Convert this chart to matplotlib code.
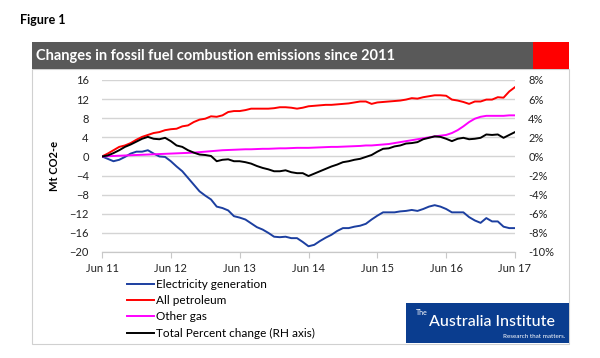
import matplotlib.pyplot as plt
from matplotlib.patches import Rectangle
from matplotlib.ticker import FuncFormatter

# monthly values, Jun 2011 .. Jun 2017
tick_labels = ['Jun 11', 'Jun 12', 'Jun 13', 'Jun 14', 'Jun 15', 'Jun 16', 'Jun 17']

electricity = [0, -0.5, -1.0, -0.7, -0.1, 0.6, 1.0, 1.0, 1.3, 0.6, 0, -0.1,
               -1.0, -2.1, -3.1, -4.5, -5.9, -7.3, -8.2, -9.0, -10.5, -10.8, -11.3, -12.5,
               -12.8, -13.2, -14.0, -14.8, -15.3, -16.0, -16.8, -16.9, -16.8, -17.1, -17.1, -17.9,
               -18.8, -18.5, -17.7, -17.0, -16.4, -15.6, -15.0, -15.0, -14.7, -14.5, -14.1, -13.2,
               -12.4, -11.7, -11.7, -11.7, -11.5, -11.4, -11.2, -11.4, -11.0, -10.5, -10.2, -10.5,
               -11.0, -11.7, -11.7, -11.7, -12.7, -13.4, -13.9, -12.9, -13.6, -13.6, -14.7, -15.0,
               -15.0]

petroleum = [0, 0.6, 1.3, 2.0, 2.3, 2.8, 3.5, 4.1, 4.5, 4.9, 5.1, 5.5,
             5.7, 5.8, 6.3, 6.5, 7.2, 7.7, 7.9, 8.4, 8.3, 8.6, 9.3, 9.5,
             9.5, 9.7, 10.0, 10.0, 10.0, 10.0, 10.1, 10.3, 10.3, 10.2, 10.0, 10.2,
             10.5, 10.6, 10.7, 10.8, 10.8, 10.9, 11.0, 11.1, 11.3, 11.5, 11.5, 11.0,
             11.3, 11.4, 11.5, 11.6, 11.7, 11.9, 12.2, 12.1, 12.4, 12.6, 12.8, 12.8,
             12.7, 11.9, 11.7, 11.4, 11.0, 11.5, 11.5, 11.9, 11.9, 12.4, 12.3, 13.6,
             14.5]

other_gas = [0, 0.05, 0.1, 0.15, 0.2, 0.25, 0.3, 0.35, 0.4, 0.45, 0.5, 0.55,
             0.6, 0.65, 0.7, 0.75, 0.8, 0.9, 1.0, 1.1, 1.2, 1.3, 1.35, 1.4,
             1.45, 1.5, 1.5, 1.55, 1.6, 1.6, 1.65, 1.7, 1.7, 1.75, 1.8, 1.8,
             1.8, 1.85, 1.9, 1.95, 2.0, 2.0, 2.05, 2.1, 2.15, 2.2, 2.3, 2.3,
             2.4, 2.5, 2.6, 2.8, 3.0, 3.2, 3.4, 3.6, 3.8, 4.0, 4.2, 4.35,
             4.5, 4.9, 5.5, 6.3, 7.2, 7.9, 8.3, 8.5, 8.5, 8.5, 8.5, 8.6,
             8.6]

# total percent change (RH axis), in %
total_pct = [0, 0.1, 0.35, 0.65, 1.0, 1.25, 1.55, 1.85, 2.05, 1.85, 1.8, 1.95,
             1.6, 1.15, 1.0, 0.65, 0.4, 0.2, 0.15, 0.05, -0.5, -0.35, -0.3, -0.5,
             -0.5, -0.6, -0.75, -1.0, -1.2, -1.35, -1.55, -1.55, -1.45, -1.65, -1.75, -1.75,
             -2.05, -1.8, -1.55, -1.3, -1.05, -0.85, -0.6, -0.5, -0.35, -0.25, -0.05, 0.15,
             0.5, 0.8, 0.85, 1.05, 1.15, 1.35, 1.4, 1.5, 1.8, 1.95, 2.1, 2.05,
             1.85, 1.6, 1.85, 1.95, 1.8, 1.85, 1.95, 2.3, 2.25, 2.3, 1.95, 2.25,
             2.55]

months = list(range(len(electricity)))

W, H = 600, 358
fig = plt.figure(figsize=(6, 3.58), dpi=100)
fig.patch.set_facecolor('white')

def fx(px):
    return px / W

def fy(py):
    return (H - py) / H

# frame + header
fig.patches.append(Rectangle((fx(32), fy(344)), fx(569) - fx(32), fy(69) - fy(344),
                             transform=fig.transFigure, facecolor='none',
                             edgecolor='#d0d0d0', lw=0.8, zorder=0))
fig.patches.append(Rectangle((fx(32), fy(69)), fx(569) - fx(32), fy(42) - fy(69),
                             transform=fig.transFigure, facecolor='#595959',
                             edgecolor='none', zorder=1))
fig.patches.append(Rectangle((fx(533), fy(69)), fx(569) - fx(533), fy(42) - fy(69),
                             transform=fig.transFigure, facecolor='#ff0000',
                             edgecolor='none', zorder=2))
fig.text(fx(20), fy(20), 'Figure 1', fontsize=9, fontweight='bold',
         family='Lato', va='center', ha='left')
fig.text(fx(36), fy(56), 'Changes in fossil fuel combustion emissions since 2011',
         fontsize=10.5, fontweight='bold', family='Lato', color='white',
         va='center', ha='left')

ax = fig.add_axes([fx(102), fy(252), fx(515) - fx(102), fy(80) - fy(252)])
ax2 = ax.twinx()
ax.patch.set_alpha(0)

ax.plot(months, electricity, color='#1c3fa0', lw=1.4, label='Electricity generation')
ax.plot(months, petroleum, color='#ff0000', lw=1.4, label='All petroleum')
ax.plot(months, other_gas, color='#ff00ff', lw=1.4, label='Other gas')
ax2.plot(months, total_pct, color='black', lw=1.4, label='Total Percent change (RH axis)')

ax.set_xlim(0, 72)
ax.set_ylim(-20, 16)
ax2.set_ylim(-10, 8)
ax.set_yticks(range(-20, 17, 4))
ax2.set_yticks(range(-10, 9, 2))
ax2.yaxis.set_major_formatter(FuncFormatter(lambda v, p: f'{v:.0f}%'))
ax.set_xticks(range(0, 73, 12))
ax.set_xticklabels(tick_labels)

ax.grid(axis='y', color='#d4d4d4', lw=1)
ax.set_axisbelow(True)
for a in (ax, ax2):
    for s in ('top', 'left', 'right'):
        a.spines[s].set_visible(False)
    a.spines['bottom'].set_color('#c8c8c8')
    a.tick_params(labelsize=8, colors='#222222', length=0, pad=9.5)
    for lab in a.get_yticklabels() + a.get_xticklabels():
        lab.set_family('Lato')
ax.tick_params(axis='x', length=4, color='#c8c8c8', direction='out', pad=4)
ax.set_ylabel('Mt CO2-e', fontsize=8, fontweight='bold', family='Lato', labelpad=7)

h1, l1 = ax.get_legend_handles_labels()
h2, l2 = ax2.get_legend_handles_labels()
leg = fig.legend(h1 + h2, l1 + l2, loc='upper left', bbox_to_anchor=(fx(122), fy(274)),
                 frameon=False, fontsize=8.5, handlelength=2.3, handletextpad=0.2,
                 labelspacing=0.45, borderaxespad=0)
for t in leg.get_texts():
    t.set_family('Lato')

# logo
fig.patches.append(Rectangle((fx(406), fy(343)), fx(569) - fx(406), fy(303) - fy(343),
                             transform=fig.transFigure, facecolor='#0a3d8f',
                             edgecolor='none', zorder=3))
fig.text(fx(416), fy(316), 'The', fontsize=5, color='white', family='Lato',
         va='bottom', ha='left', zorder=4)
fig.text(fx(429), fy(322), 'Australia Institute', fontsize=11.5, color='white',
         family='Lato', fontweight='medium', va='center', ha='left', zorder=4)
fig.text(fx(565), fy(337), 'Research that matters.', fontsize=4.5, color='white',
         family='Lato', va='center', ha='right', zorder=4)

fig.savefig('out.png', dpi=100)
